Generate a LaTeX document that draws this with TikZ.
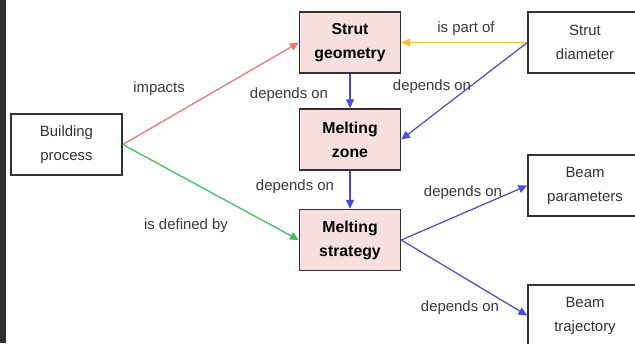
\documentclass[tikz,border=0pt]{standalone}
\usepackage{fontspec}
\setmainfont{Liberation Sans}
\usetikzlibrary{arrows.meta}
\definecolor{boxline}{HTML}{333333}
\definecolor{pinkfill}{HTML}{F9E0E0}
\definecolor{redline}{HTML}{F07272}
\definecolor{greenline}{HTML}{3CBF5C}
\definecolor{yellowline}{HTML}{F4C22A}
\definecolor{blueline}{HTML}{4B4BDB}
\definecolor{sidebar}{HTML}{2D2D30}
\definecolor{labelgray}{HTML}{3A3A3A}
\begin{document}
\begin{tikzpicture}[x=0.02cm,y=-0.02cm,
  plainbox/.style={draw=boxline, line width=0.85pt, fill=white, align=center,
    minimum height=1.22cm, inner sep=0pt, text=boxline,
    font=\fontsize{8.5}{13.6}\selectfont},
  keybox/.style={plainbox, fill=pinkfill, minimum width=2.02cm,
    font=\fontsize{9}{13.6}\selectfont\bfseries, text=black},
  link/.style={line width=0.7pt, -{Triangle[length=5pt,width=4.5pt]}},
  lbl/.style={text=labelgray, font=\fontsize{8.5}{10}\selectfont, inner sep=0pt}]
  \useasboundingbox (0,0) rectangle (635,343);
  \clip (0,0) rectangle (635,343);
  \fill[white] (0,0) rectangle (635,343);
  \fill[sidebar] (0,0) rectangle (6,343);

  % nodes
  \node[plainbox, minimum width=2.22cm] (bp) at (66.5,144.5) {Building\\process};
  \node[keybox] (sg) at (350,42.5) {Strut\\geometry};
  \node[keybox] (mz) at (350,139.5) {Melting\\zone};
  \node[keybox] (ms) at (350,240) {Melting\\strategy};
  \node[plainbox, minimum width=2.28cm] (sd) at (585,42.5) {Strut\\diameter};
  \node[plainbox, minimum width=2.28cm] (bpar) at (585,185.5) {Beam\\parameters};
  \node[plainbox, minimum width=2.28cm] (btr) at (585,315.5) {Beam\\trajectory};

  % connectors
  \draw[link, redline] (bp.east) -- (sg.west);
  \draw[link, greenline] (bp.east) -- (ms.west);
  \draw[link, yellowline] (sd.west) -- (sg.east);
  \draw[link, blueline] (sd.west) -- (mz.east);
  \draw[link, blueline] (sg.south) -- (mz.north);
  \draw[link, blueline] (mz.south) -- (ms.north);
  \draw[link, blueline] (ms.east) -- (bpar.west);
  \draw[link, blueline] (ms.east) -- (btr.west);

  % connector labels
  \node[lbl] (l1) at (159,89) {impacts};
  \node[lbl] (l2) at (186,226) {is defined by};
  \node[lbl] (l3) at (466,29) {is part of};
  \node[lbl] (l4) at (432,87) {depends on};
  \node[lbl] (l5) at (289,95) {depends on};
  \node[lbl] (l6) at (295,187) {depends on};
  \node[lbl] (l7) at (463,193) {depends on};
  \node[lbl] (l8) at (460,308) {depends on};
\end{tikzpicture}
\end{document}
